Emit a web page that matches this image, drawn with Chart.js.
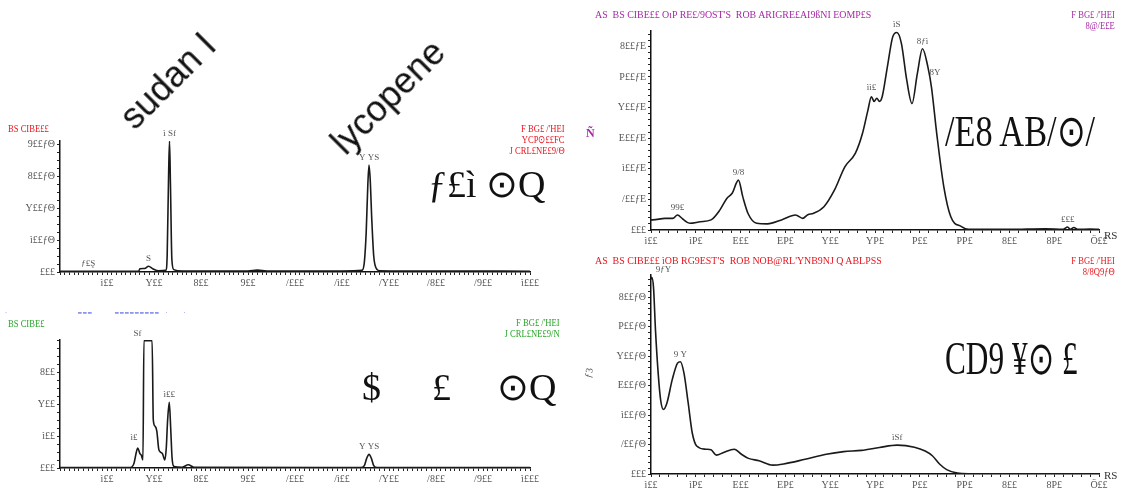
<!DOCTYPE html>
<html>
<head>
<meta charset="utf-8">
<script src="https://cdn.jsdelivr.net/npm/chart.js@4.4.1/dist/chart.umd.min.js"></script>
<style>
  body { margin: 0; background: #fff; width: 1134px; height: 493px; position: relative; overflow: hidden; font-family: 'Liberation Serif', serif; }
  canvas { position: absolute; }
  .t { position: absolute; white-space: nowrap; line-height: 1; }
  .hdr { font-size: 11px; transform: scaleX(0.78); transform-origin: left top; }
  .hdr.wide { transform: scaleX(0.9); }
  .hdr.r { transform-origin: right top; text-align: right; }
  .big { font-size: 38px; color: #111; transform-origin: left top; }
  .diag { font-family: 'Liberation Sans', Arial, sans-serif; font-size: 36px; color: #111; transform: translate(-50%, -50%) rotate(-45deg); }
</style>
</head>
<body>

<canvas id="c1" width="575" height="180" style="left:0;top:115px"></canvas>
<canvas id="c2" width="575" height="190" style="left:0;top:300px"></canvas>
<canvas id="c3" width="554" height="247" style="left:580px;top:0"></canvas>
<canvas id="c4" width="554" height="231" style="left:580px;top:262px"></canvas>

<!-- top-left headers -->
<div class="t hdr" style="left:8px;top:123px;color:#e8141c">BS CIBE££</div>
<div class="t hdr r" style="right:569px;top:123px;color:#e8141c">F BG£ /'HEI<br>YCP⊙££FC<br>J CRL£NE£9/Θ</div>
<div class="t big" style="left:428px;top:165px">ƒ£ì ⊙Q</div>
<div class="t diag" style="left:168px;top:81px">sudan I</div>
<div class="t diag" style="left:388px;top:97px">lycopene</div>

<!-- bottom-left headers -->
<div class="t" style="left:5px;top:310px;color:#3a46e0;font-size:6px;letter-spacing:1px">·&nbsp;&nbsp;&nbsp;&nbsp;&nbsp;&nbsp;&nbsp;&nbsp;&nbsp;&nbsp;&nbsp;&nbsp;&nbsp;&nbsp;&nbsp;&nbsp;&nbsp;&nbsp;&nbsp;&nbsp;&nbsp;&nbsp;&nbsp;&nbsp;&nbsp;&nbsp;&nbsp;&nbsp;━━━&nbsp;&nbsp;&nbsp;&nbsp;&nbsp;&nbsp;&nbsp;&nbsp;&nbsp;━━━━━━━━━&nbsp;&nbsp;·&nbsp;&nbsp;&nbsp;&nbsp;&nbsp;&nbsp;·</div>
<div class="t hdr" style="left:8px;top:318px;color:#27a52a">BS CIBE£</div>
<div class="t hdr r" style="right:574px;top:317px;color:#27a52a">F BG£ /'HEI<br>J CRL£NE£9/N</div>
<div class="t big" style="left:362px;top:368px">$</div>
<div class="t big" style="left:432px;top:368px">£</div>
<div class="t big" style="left:497px;top:368px">⊙Q</div>

<!-- top-right headers -->
<div class="t hdr wide" style="left:595px;top:9px;color:#a52aa5">AS&nbsp;&nbsp;BS CIBE££ O&#305;P RE£/9OST'S&nbsp;&nbsp;ROB ARIGRE£AI9ßNI EOMP£S</div>
<div class="t hdr r" style="right:19px;top:9px;color:#a52aa5">F BG£ /'HEI<br>8@/E£E</div>
<div class="t" style="left:586px;top:127px;color:#a52aa5;font-size:12px;font-weight:bold">Ñ</div>
<div class="t big" style="left:945px;top:110px;font-size:44px;transform:scaleX(0.78)">/E8 AB/⊙/</div>
<div class="t" style="left:1104px;top:230px;font-size:11px;color:#333">RS</div>

<!-- bottom-right headers -->
<div class="t hdr wide" style="left:595px;top:255px;color:#e8141c">AS&nbsp;&nbsp;BS CIBE££ ìOB RG9EST'S&nbsp;&nbsp;ROB NOB@RL'YNB9NJ Q ABLPSS</div>
<div class="t hdr r" style="right:19px;top:255px;color:#e8141c">F BG£ /'HEI<br>8/8Q9ƒΘ</div>
<div class="t" style="left:584px;top:368px;font-size:10px;color:#555;transform:rotate(-80deg)">ƒ3</div>
<div class="t big" style="left:945px;top:336px;font-size:46px;transform:scaleX(0.68)">CD9 ¥⊙ £</div>
<div class="t" style="left:1104px;top:470px;font-size:11px;color:#333">RS</div>

<script>
// ---- tick labels ----
const timeTicks = [2, 4, 6, 8, 10, 12, 14, 16, 18, 20];
const timeTickLabels = ['ì££', 'Y££', '8££', '9££', '/£££', '/ì££', '/Y££', '/8££', '/9££', 'ì£££'];
const nmTicks = [200, 250, 300, 350, 400, 450, 500, 550, 600, 650, 700];
const nmTickLabels = ['ì££', 'ìP£', 'E££', 'EP£', 'Y££', 'YP£', 'P££', 'PP£', '8££', '8P£', 'Ö££'];
const p1YTicks = [0, 2, 4, 6, 8];
const p1YTickLabels = ['£££', 'ì££ƒΘ', 'Y££ƒΘ', '8££ƒΘ', '9££ƒΘ'];
const p2YTicks = [0, 2, 4, 6];
const p2YTickLabels = ['£££', 'ì££', 'Y££', '8££'];
const specYTicks = [0, 1, 2, 3, 4, 5, 6];
const p3YTickLabels = ['£££', '/££ƒE', 'ì££ƒE', 'E££ƒE', 'Y££ƒE', 'P££ƒE', '8££ƒE'];
const p4YTickLabels = ['£££', '/££ƒΘ', 'ì££ƒΘ', 'E££ƒΘ', 'Y££ƒΘ', 'P££ƒΘ', '8££ƒΘ'];

// ---- panel 1: chromatogram (top left) ----
const p1Time = [0, 2, 3.35, 3.4, 3.6, 3.77, 3.95, 4.2, 4.5, 4.56, 4.62, 4.66, 4.7, 4.76, 4.84, 5.2, 8.0, 8.4, 8.8, 12.0,
                12.85, 12.95, 13.03, 13.1, 13.15, 13.2, 13.27, 13.35, 13.45, 13.6, 16, 20];
const p1Signal = [0.05, 0.05, 0.05, 0.2, 0.22, 0.36, 0.2, 0.07, 0.1, 1.0, 6.0, 8.2, 5.5, 0.8, 0.15, 0.06, 0.06, 0.12, 0.06, 0.06,
                  0.1, 0.6, 2.5, 5.5, 6.7, 5.8, 3.2, 1.0, 0.25, 0.08, 0.06, 0.05];
const p1PeakX = [4.66, 13.15, 3.77, 1.2];
const p1PeakY = [8.2, 6.7, 0.36, 0.05];
const p1PeakText = ['ì Sf', 'Y YS', 'S', 'ƒ£Ş'];

// ---- panel 2: chromatogram (bottom left) ----
const p2Time = [0, 3.0, 3.15, 3.25, 3.31, 3.4, 3.46, 3.53, 3.57, 3.92, 3.97, 4.05, 4.12, 4.2, 4.27, 4.36, 4.46, 4.52, 4.58, 4.65,
                4.71, 4.77, 4.85, 5.2, 5.46, 5.7, 12.8, 12.95, 13.05, 13.15, 13.25, 13.35, 13.5, 20];
const p2Signal = [0.03, 0.03, 0.3, 1.0, 1.25, 0.9, 0.8, 0.5, 7.95, 7.95, 3.0, 2.6, 2.3, 1.2, 1.0, 0.9, 0.5, 1.2, 3.0, 4.1,
                  2.5, 0.6, 0.1, 0.05, 0.2, 0.05, 0.03, 0.15, 0.6, 0.85, 0.6, 0.15, 0.03, 0.03];
const p2PeakX = [3.3, 4.65, 3.15, 13.15];
const p2PeakY = [7.95, 4.1, 1.4, 0.85];
const p2PeakText = ['Sf', 'ì££', 'ì£', 'Y YS'];

// ---- panel 3: spectrum (top right) ----
const p3Nm = [200, 202, 215.7, 224.4, 229.5, 235.4, 243.3, 255, 267, 276.8, 284.6, 290.6, 297.6, 302.4, 308.3, 318, 330, 345.7,
              361.4, 369.3, 375, 381, 393, 404.7, 416.5, 428, 436, 442, 446, 449, 452, 455, 458, 463.8, 469.7, 474.4, 479.5,
              485.4, 491.3, 497.2, 503, 509, 513, 518.9, 526.8, 534.6, 546.5, 554.3, 600, 640, 660, 665, 668, 672, 676, 690, 700];
const p3Abs = [0.33, 0.33, 0.38, 0.38, 0.49, 0.36, 0.22, 0.27, 0.33, 0.65, 1.03, 1.2, 1.63, 1.09, 0.54, 0.22, 0.2, 0.33,
               0.49, 0.38, 0.5, 0.54, 0.76, 1.3, 2.07, 2.5, 3.15, 3.9, 4.35, 4.2, 4.3, 4.2, 4.35, 5.33, 6.3, 6.45, 6.09,
               4.9, 4.13, 5.1, 5.92, 5.33, 4.67, 3.15, 1.41, 0.43, 0.11, 0.02, 0.02, 0.04, 0.02, 0.1, 0.02, 0.08, 0.02, 0.03, 0.02];
const p3PeakX = [474.4, 503, 517, 446, 297.6, 229.5, 665];
const p3PeakY = [6.45, 5.92, 4.9, 4.4, 1.63, 0.49, 0.1];
const p3PeakText = ['ìS', '8ƒì', '8Y', 'ìì£', '9/8', '99£', '£££'];

// ---- panel 4: spectrum (bottom right) ----
const p4Nm = [200, 200.8, 202.8, 205, 208, 210.7, 213.8, 217.8, 223.7, 229.6, 232.8, 236.8, 241.5, 246, 251, 261, 267, 273,
              281, 293, 301, 308.7, 320.6, 336, 348, 372, 395.6, 415, 435, 455, 474.7, 494, 506, 514, 522, 530, 542, 554, 700];
const p4Abs = [6.6, 6.67, 6.33, 4.88, 3.42, 2.52, 2.19, 2.41, 3.2, 3.76, 3.81, 3.42, 2.41, 1.4, 0.95, 0.84, 0.82, 0.64,
               0.73, 0.84, 0.67, 0.53, 0.45, 0.3, 0.34, 0.5, 0.67, 0.76, 0.8, 0.9, 0.98, 0.91, 0.78, 0.62, 0.34, 0.15, 0.03, 0.01, 0.01];
const p4PeakX = [214, 232.8, 474.7];
const p4PeakY = [6.67, 3.81, 0.98];
const p4PeakText = ['9ƒY', '9 Y', 'ìSf'];

// small labels sitting over peaks
const peakLabelPlugin = {
  id: 'peakLabels',
  afterDatasetsDraw(chart, args, opts) {
    const ctx = chart.ctx;
    const x = chart.scales.x, y = chart.scales.y;
    ctx.save();
    ctx.font = '9px "Liberation Serif"';
    ctx.fillStyle = '#555';
    ctx.textAlign = 'center';
    ctx.textBaseline = 'bottom';
    (opts.items || []).forEach(it => {
      ctx.fillText(it.text, x.getPixelForValue(it.x), y.getPixelForValue(it.y) - 3);
    });
    ctx.restore();
  }
};

function tickRange(min, max, step) {
  const out = [];
  for (let v = min; v <= max + 1e-9; v += step) out.push(Math.round(v * 1000) / 1000);
  return out;
}

function labelFor(v, majors, labels) {
  const i = majors.findIndex(m => Math.abs(m - v) < 1e-6);
  return i >= 0 ? labels[i] : '';
}

function axisOptions(min, max, minorStep, majors, labels, afterFit) {
  const all = tickRange(min, max, minorStep);
  return {
    type: 'linear',
    min: min,
    max: max,
    afterFit: afterFit,
    afterBuildTicks: s => { s.ticks = all.map(v => ({ value: v })); },
    ticks: {
      autoSkip: false,
      maxRotation: 0,
      minRotation: 0,
      padding: 2,
      color: '#555',
      font: { family: 'Liberation Serif', size: 10 },
      callback: v => labelFor(v, majors, labels)
    },
    grid: { drawOnChartArea: false, drawTicks: true, tickLength: 3, color: '#222', lineWidth: 1 },
    border: { display: true, color: '#111', width: 1.5 }
  };
}

function makeTrace(id, xs, ys, cfg) {
  const items = cfg.peakX.map((v, i) => ({ x: v, y: cfg.peakY[i], text: cfg.peakText[i] }));
  new Chart(document.getElementById(id), {
    type: 'line',
    data: {
      datasets: [{
        data: xs.map((v, i) => ({ x: v, y: ys[i] })),
        borderColor: '#1a1a1a',
        borderWidth: 1.6,
        pointRadius: 0,
        cubicInterpolationMode: 'monotone',
        fill: false
      }]
    },
    options: {
      responsive: false,
      animation: false,
      events: [],
      layout: { padding: cfg.padding },
      plugins: {
        legend: { display: false },
        tooltip: { enabled: false },
        peakLabels: { items: items }
      },
      scales: {
        x: axisOptions(cfg.xMin, cfg.xMax, cfg.xStep, cfg.xMajors, cfg.xLabels, s => { s.height = cfg.xAxisH; }),
        y: axisOptions(0, cfg.yMax, cfg.yStep, cfg.yMajors, cfg.yLabels, s => { s.width = cfg.yAxisW; })
      }
    },
    plugins: [peakLabelPlugin]
  });
}

makeTrace('c1', p1Time, p1Signal, {
  xMin: 0, xMax: 20, xStep: 0.2, xMajors: timeTicks, xLabels: timeTickLabels,
  yMax: 8.2, yStep: 0.5, yMajors: p1YTicks, yLabels: p1YTickLabels,
  peakX: p1PeakX, peakY: p1PeakY, peakText: p1PeakText,
  padding: { left: 0, right: 45, top: 26, bottom: 0 }, yAxisW: 60, xAxisH: 23
});

makeTrace('c2', p2Time, p2Signal, {
  xMin: 0, xMax: 20, xStep: 0.2, xMajors: timeTicks, xLabels: timeTickLabels,
  yMax: 8, yStep: 0.5, yMajors: p2YTicks, yLabels: p2YTickLabels,
  peakX: p2PeakX, peakY: p2PeakY, peakText: p2PeakText,
  padding: { left: 0, right: 45, top: 40, bottom: 0 }, yAxisW: 60, xAxisH: 22
});

makeTrace('c3', p3Nm, p3Abs, {
  xMin: 200, xMax: 700, xStep: 10, xMajors: nmTicks, xLabels: nmTickLabels,
  yMax: 6.5, yStep: 0.2, yMajors: specYTicks, yLabels: p3YTickLabels,
  peakX: p3PeakX, peakY: p3PeakY, peakText: p3PeakText,
  padding: { left: 0, right: 35, top: 31, bottom: 0 }, yAxisW: 71, xAxisH: 17
});

makeTrace('c4', p4Nm, p4Abs, {
  xMin: 200, xMax: 700, xStep: 10, xMajors: nmTicks, xLabels: nmTickLabels,
  yMax: 6.75, yStep: 0.2, yMajors: specYTicks, yLabels: p4YTickLabels,
  peakX: p4PeakX, peakY: p4PeakY, peakText: p4PeakText,
  padding: { left: 0, right: 35, top: 13, bottom: 0 }, yAxisW: 71, xAxisH: 19
});
</script>
</body>
</html>
